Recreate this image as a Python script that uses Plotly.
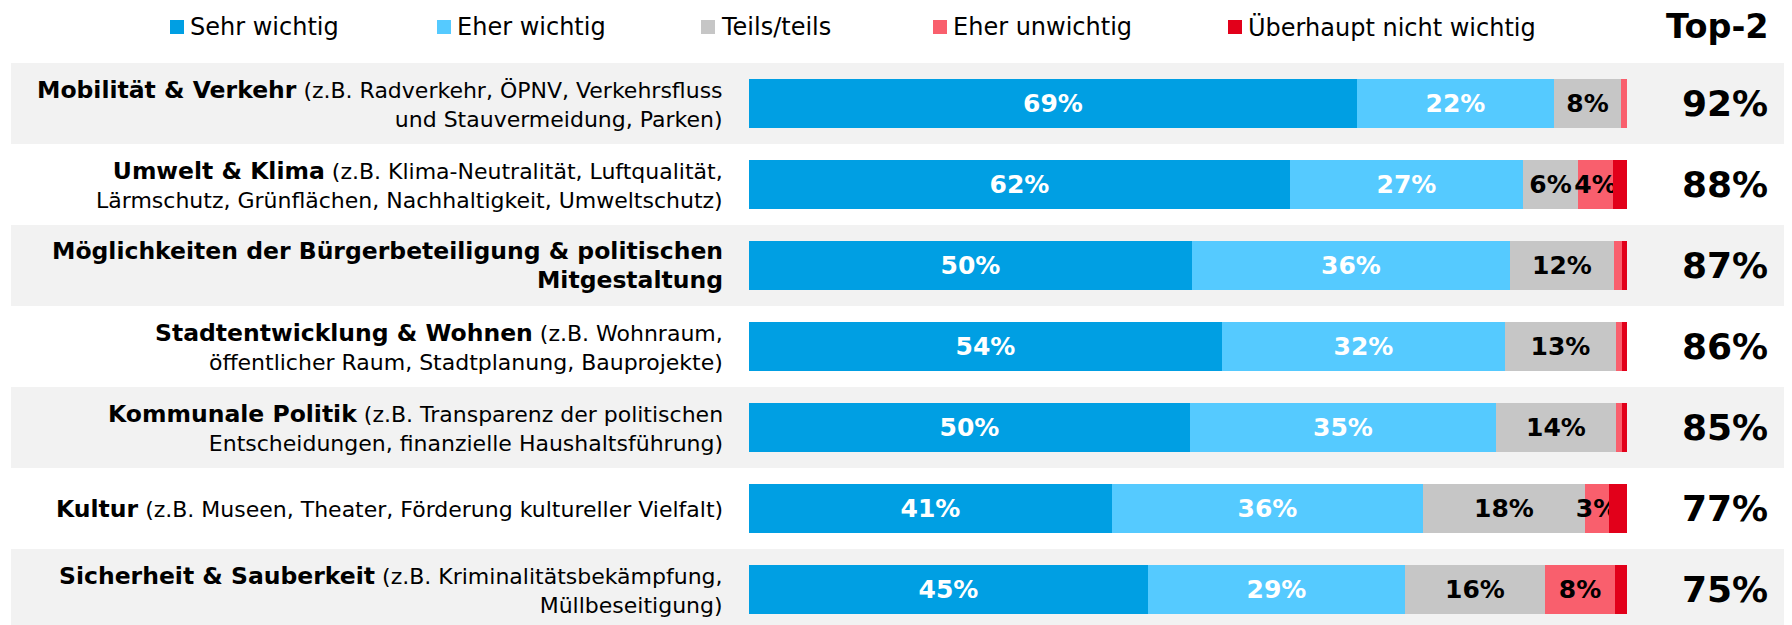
import plotly.graph_objects as go

# ---------------- data ----------------
cat_main = [
    "Mobilität & Verkehr",
    "Umwelt & Klima",
    "Möglichkeiten der Bürgerbeteiligung & politischen<br>Mitgestaltung",
    "Stadtentwicklung & Wohnen",
    "Kommunale Politik",
    "Kultur",
    "Sicherheit & Sauberkeit",
]
cat_detail = [
    "(z.B. Radverkehr, ÖPNV, Verkehrsfluss<br>und Stauvermeidung, Parken)",
    "(z.B. Klima-Neutralität, Luftqualität,<br>Lärmschutz, Grünflächen, Nachhaltigkeit, Umweltschutz)",
    "",
    "(z.B. Wohnraum,<br>öffentlicher Raum, Stadtplanung, Bauprojekte)",
    "(z.B. Transparenz der politischen<br>Entscheidungen, finanzielle Haushaltsführung)",
    "(z.B. Museen, Theater, Förderung kultureller Vielfalt)",
    "(z.B. Kriminalitätsbekämpfung,<br>Müllbeseitigung)",
]

series_names = ["Sehr wichtig", "Eher wichtig", "Teils/teils", "Eher unwichtig", "Überhaupt nicht wichtig"]
sehr_wichtig = [69.3, 61.6, 50.4, 53.9, 50.2, 41.3, 45.4]
eher_wichtig = [22.4, 26.6, 36.3, 32.2, 34.9, 35.5, 29.3]
teils_teils = [7.6, 6.2, 11.8, 12.6, 13.6, 18.4, 16.0]
eher_unwichtig = [0.7, 4.0, 0.9, 0.7, 0.7, 2.7, 7.9]
ueberhaupt_nicht = [0.0, 1.6, 0.6, 0.6, 0.6, 2.1, 1.4]
top2 = [92, 88, 87, 86, 85, 77, 75]

series_values = [sehr_wichtig, eher_wichtig, teils_teils, eher_unwichtig, ueberhaupt_nicht]
series_colors = ["#009FE3", "#55CAFF", "#C6C6C6", "#F95F6D", "#E2001A"]
text_colors = ["white", "white", "black", "black", "black"]

# ---------------- layout geometry (window pixels; page body has an 8px margin) ----------------
OFF = 8
W, H = 1792 - OFF, 625 - OFF
def px(x):
    return (x - OFF) / W
def py(y):
    return 1 - (y - OFF) / H

n = len(cat_main)
rows = list(range(n))

fig = go.Figure()
for name, vals, col, tcol in zip(series_names, series_values, series_colors, text_colors):
    fig.add_trace(go.Bar(
        x=vals, y=rows, orientation="h", name=name,
        marker=dict(color=col, line=dict(width=0)),
        width=0.6,
        text=[f"{round(v)}%" if v >= 2.5 else "" for v in vals],
        textposition="inside", insidetextanchor="middle", textangle=0,
        constraintext="none",
        textfont=dict(family="DejaVu Sans", size=25, color=tcol, weight="bold"),
        hoverinfo="skip", showlegend=False,
    ))

shapes = []
for i in rows:
    if i % 2 == 0:
        shapes.append(dict(type="rect", xref="paper", yref="y", x0=px(11), x1=1,
                           y0=i - 0.5, y1=i + 0.5, fillcolor="#F2F2F2",
                           line=dict(width=0), layer="below"))

annotations = []
for i, (m, d) in enumerate(zip(cat_main, cat_detail)):
    txt = f"<b><span style='font-size:23.5px'>{m}</span></b>" + (f" {d}" if d else "")
    annotations.append(dict(x=px(725), y=i, xref="paper", yref="y", text=txt,
                            showarrow=False, xanchor="right", yanchor="middle", align="right",
                            font=dict(family="DejaVu Sans", size=22, color="black")))
    annotations.append(dict(x=px(1725), y=i, xref="paper", yref="y", text=f"<b>{top2[i]}%</b>",
                            showarrow=False, xanchor="center", yanchor="middle",
                            font=dict(family="DejaVu Sans", size=36, color="black")))

annotations.append(dict(x=px(1717), y=py(26), xref="paper", yref="paper", text="<b>Top-2</b>",
                        showarrow=False, xanchor="center", yanchor="middle",
                        font=dict(family="DejaVu Sans", size=33.5, color="black")))

legend_x = [170, 437, 701, 933, 1228]
for name, col, lx in zip(series_names, series_colors, legend_x):
    shapes.append(dict(type="rect", xref="paper", yref="paper", x0=px(lx), x1=px(lx + 14),
                       y0=py(34), y1=py(20), fillcolor=col, line=dict(width=0)))
    annotations.append(dict(x=px(lx + 18), y=py(27), xref="paper", yref="paper", text=name,
                            showarrow=False, xanchor="left", yanchor="middle",
                            font=dict(family="DejaVu Sans", size=24, color="black")))

fig.update_layout(
    width=W, height=H, autosize=False,
    margin=dict(l=0, r=0, t=0, b=0),
    paper_bgcolor="white", plot_bgcolor="rgba(0,0,0,0)",
    barmode="stack", bargap=0,
    xaxis=dict(domain=[px(749), px(1627)], range=[0, 100], visible=False, fixedrange=True),
    yaxis=dict(domain=[0, py(63)], range=[n - 0.5 - 5 / 81, -0.5], visible=False, fixedrange=True),
    shapes=shapes, annotations=annotations,
    font=dict(family="DejaVu Sans"),
    showlegend=False,
)

fig.write_html("out.html", config={"displayModeBar": False})
